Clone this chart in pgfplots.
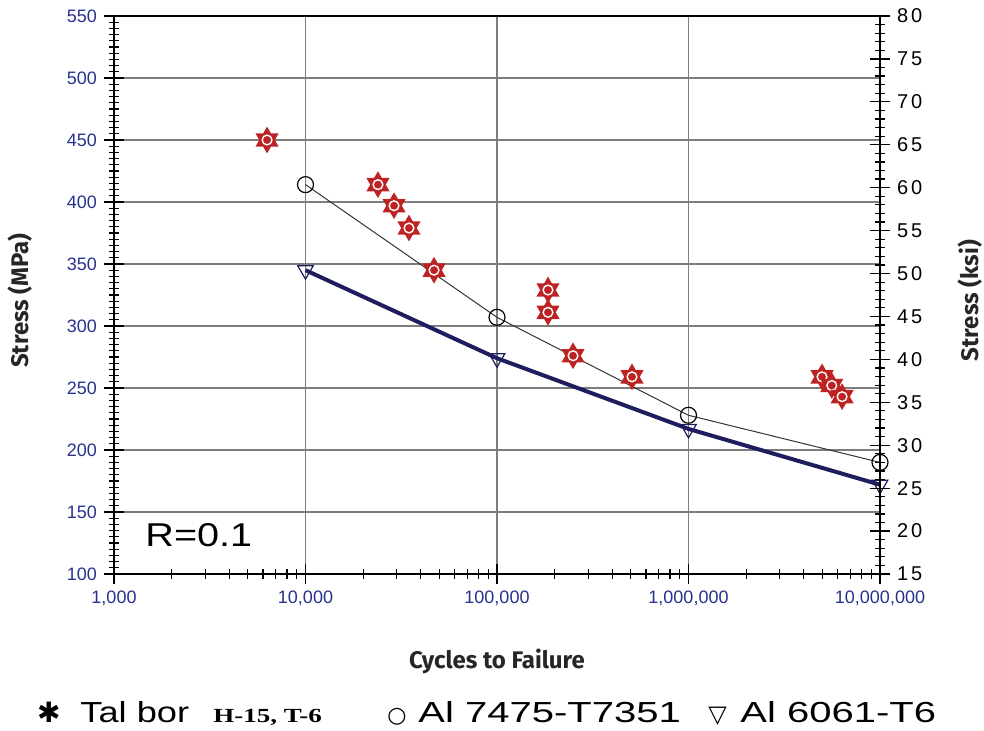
\documentclass[border=0pt]{standalone}
\usepackage{fontspec}
\setmainfont{Liberation Sans}
\newfontfamily\labfont{Fira Sans}
\newfontfamily\symfont{DejaVu Sans}
\newfontfamily\serifb{Liberation Serif}
\newfontfamily\spaced[LetterSpace=15]{Liberation Sans}
\usepackage{graphicx}
\usepackage{pgfplots}
\pgfplotsset{compat=1.18}

\definecolor{navytick}{RGB}{40,50,140}
\definecolor{navyline}{RGB}{30,30,95}
\definecolor{starred}{RGB}{190,35,35}
\definecolor{gridgray}{RGB}{125,125,125}

% red six-point star marker
\pgfdeclareplotmark{gear}{%
  \pgfpathmoveto{\pgfpointpolar{90}{\pgfplotmarksize}}%
  \pgfpathlineto{\pgfpointpolar{210}{\pgfplotmarksize}}%
  \pgfpathlineto{\pgfpointpolar{330}{\pgfplotmarksize}}%
  \pgfpathclose
  \pgfpathmoveto{\pgfpointpolar{270}{\pgfplotmarksize}}%
  \pgfpathlineto{\pgfpointpolar{390}{\pgfplotmarksize}}%
  \pgfpathlineto{\pgfpointpolar{510}{\pgfplotmarksize}}%
  \pgfpathclose
  \pgfusepathqfillstroke
  \begin{pgfscope}%
  \pgfsetstrokecolor{white}%
  \pgfsetlinewidth{0.7pt}%
  \pgfpathcircle{\pgfpointorigin}{0.42\pgfplotmarksize}%
  \pgfusepathqstroke
  \end{pgfscope}%
}

\begin{document}
\begin{tikzpicture}
\useasboundingbox (-57pt,-78.5pt) rectangle (435pt,287pt);
\begin{axis}[
  at={(0,0)}, anchor=south west,
  scale only axis, width=383pt, height=279pt,
  xmode=log, xmin=1000, xmax=1e7, ymin=100, ymax=550,
  xtick={1000,10000,100000,1000000,10000000},
  xticklabels={{1,000},{10,000},{100,000},{1,000,000},{10,000,000}},
  minor xtick={2e3,3e3,4e3,5e3,6e3,7e3,8e3,9e3,
    2e4,3e4,4e4,5e4,6e4,7e4,8e4,9e4,
    2e5,3e5,4e5,5e5,6e5,7e5,8e5,9e5,
    2e6,3e6,4e6,5e6,6e6,7e6,8e6,9e6},
  ytick={100,150,...,550},
  minor y tick num=9,
  xtick pos=lower, ytick pos=left,
  tick align=center,
  major tick length=10pt, minor tick length=5pt,
  tick style={black, line width=0.6pt},
  grid=major, major grid style={gridgray, line width=0.7pt},
  axis line style={line width=0.8pt},
  tick label style={font=\fontsize{9}{10}\selectfont, text=navytick},
  /pgf/number format/assume math mode=true,
  xlabel={Cycles to Failure}, ylabel={Stress (MPa)},
  label style={font=\labfont\bfseries\fontsize{12}{14}\selectfont, text=black!85},
  xlabel style={at={(axis description cs:0.5,-0.156)}, anchor=center},
  ylabel style={at={(axis description cs:-0.1227,0.49)}, anchor=center},
  clip=false,
]
\addplot[black!80, line width=0.5pt, mark=o, mark size=4pt,
  mark options={solid, line width=0.6pt, draw=black}]
  coordinates {(1e4,414) (1e5,307) (1e6,228) (1e7,190)};
\addplot[navyline, line width=2pt, mark=triangle, mark size=4.5pt,
  mark options={rotate=180, line width=0.6pt, draw=navyline}]
  coordinates {(1e4,345) (1e5,274) (1e6,217) (1e7,172)};
\addplot[only marks, mark=gear, mark size=5.8pt,
  mark options={draw=starred, fill=starred, line width=0.9pt}]
  coordinates {(6300,450) (23900,414) (29000,397) (34700,379) (46900,345)
    (184600,329) (184600,311) (249500,276) (507000,259)
    (4980000,259) (5600000,252) (6340000,243)};

\node[anchor=base west, inner sep=0, font=\fontsize{16.5}{18}\selectfont]
  at (rel axis cs:0.0405,0.0484) {\scalebox{1.2}[1]{R=0.1}};

% legend row
\node[anchor=base, inner sep=0, font=\symfont\fontsize{14}{16}\selectfont]
  at (rel axis cs:-0.0849,-0.267) {✱};
\node[anchor=base west, inner sep=0, font=\fontsize{14.5}{17}\selectfont]
  at (rel axis cs:-0.0444,-0.267) {\scalebox{1.25}[1]{Tal bor}};
\node[anchor=base west, inner sep=0, font=\serifb\bfseries\fontsize{10}{12}\selectfont]
  at (rel axis cs:0.1292,-0.267) {\scalebox{1.35}[1]{H-15, T-6}};
\node[anchor=base west, inner sep=0, font=\symfont\fontsize{11}{13}\selectfont]
  at (rel axis cs:0.3564,-0.267) {○};
\node[anchor=base west, inner sep=0, font=\fontsize{14.5}{17}\selectfont]
  at (rel axis cs:0.3969,-0.267) {\scalebox{1.38}[1]{Al 7475-T7351}};
\node[anchor=base west, inner sep=0, font=\symfont\fontsize{12}{14}\selectfont]
  at (rel axis cs:0.7755,-0.267) {▽};
\node[anchor=base west, inner sep=0, font=\fontsize{14.5}{17}\selectfont]
  at (rel axis cs:0.8172,-0.267) {\scalebox{1.38}[1]{Al 6061-T6}};
\end{axis}

\begin{axis}[
  at={(0,0)}, anchor=south west,
  scale only axis, width=383pt, height=279pt,
  xmode=log, xmin=1000, xmax=1e7, ymin=15, ymax=80,
  axis x line=none, axis y line*=right,
  ytick={15,20,...,80}, minor y tick num=4,
  tick align=center,
  major tick length=10pt, minor tick length=5pt,
  tick style={black, line width=0.6pt},
  axis line style={line width=0.8pt},
  yticklabel style={font=\spaced\fontsize{10}{12}\selectfont, text=black},
  /pgf/number format/assume math mode=true,
  ylabel={Stress (ksi)},
  ylabel style={font=\labfont\bfseries\fontsize{12}{14}\selectfont, text=black!85,
    at={(axis description cs:1.1175,0.49)}, anchor=center},
]
\end{axis}
\end{tikzpicture}
\end{document}
